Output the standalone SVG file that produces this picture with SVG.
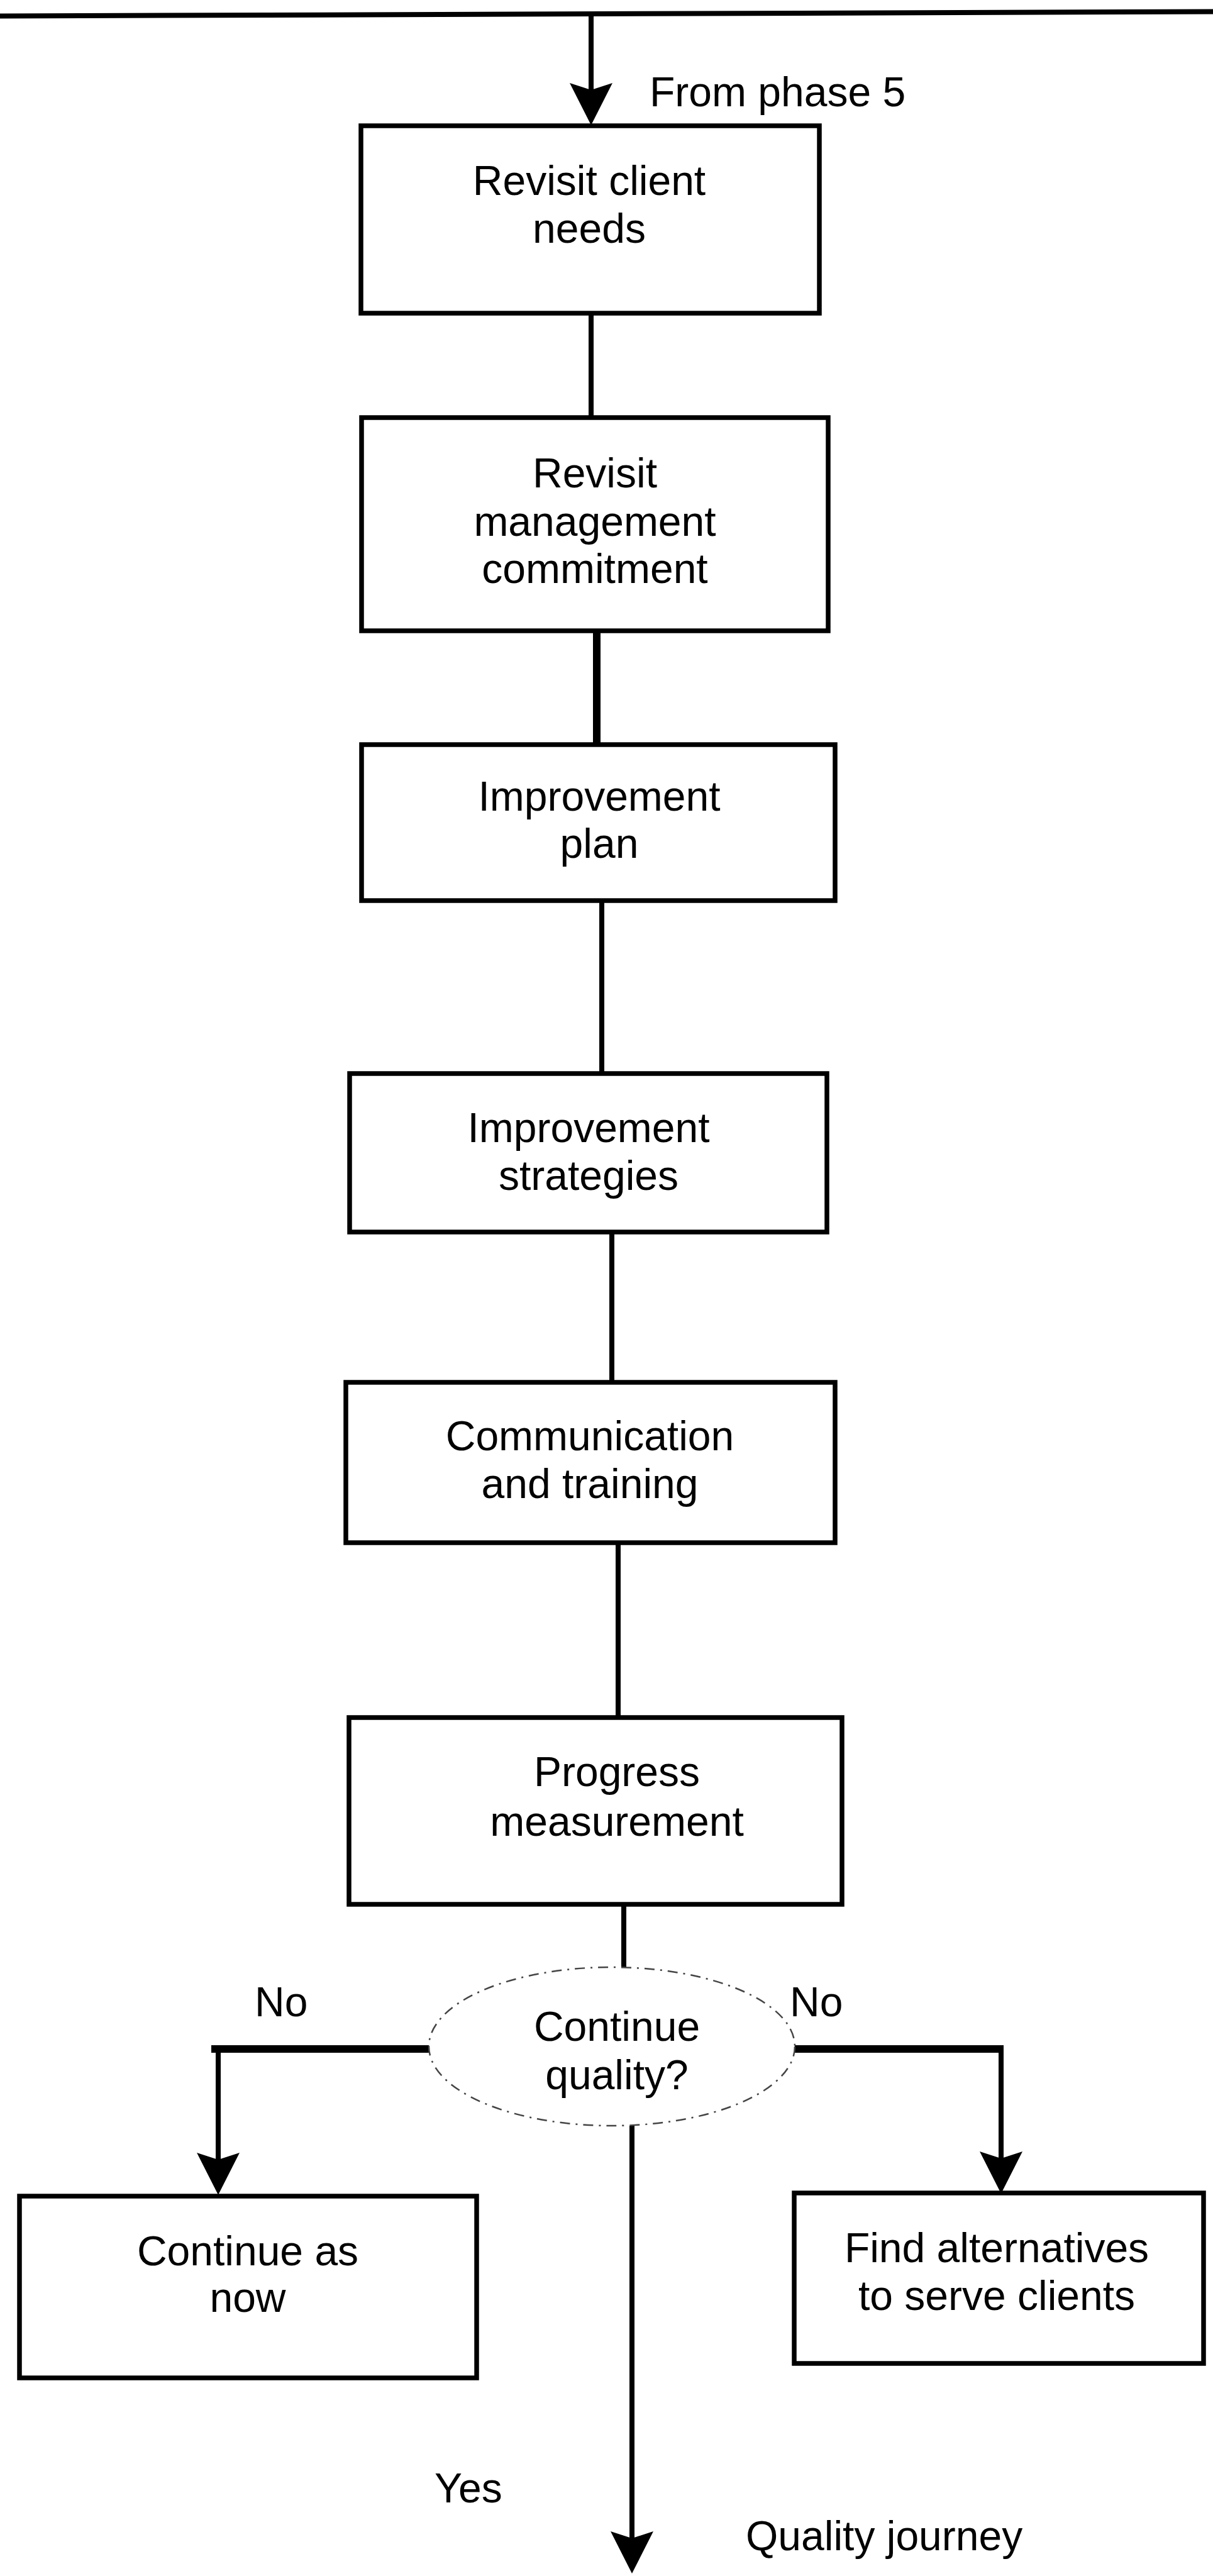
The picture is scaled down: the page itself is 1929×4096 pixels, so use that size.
<svg xmlns="http://www.w3.org/2000/svg" xmlns:xlink="http://www.w3.org/1999/xlink" width="1929" height="4096" viewBox="0 0 1929 4096">
  <style>
    .box { fill: #ffffff; stroke: #000000; stroke-width: 7.5; }
    .lbl { font-family: "Liberation Sans", Arial, sans-serif; font-size: 66px; fill: #000000; }
    .mid { text-anchor: middle; }
    .wire { fill: none; stroke: #000000; stroke-width: 8; stroke-linecap: butt; }
    .wire-thick { fill: none; stroke: #000000; stroke-width: 12; }
    .decision { fill: #ffffff; stroke: #444444; stroke-width: 2.5; stroke-dasharray: 16 9 3 9; }
  </style>
  <defs>
    <!-- notched arrowhead, tip at origin pointing down -->
    <path id="arrowhead" d="M0,0 L-34,-67 L0,-56 L34,-67 Z" fill="#000000"/>
  </defs>
  <rect x="0" y="0" width="1929" height="4096" fill="#ffffff"/>

  <g id="connectors">
    <!-- incoming line from previous phase -->
    <line class="wire" x1="0" y1="25.5" x2="1929" y2="18.5"/>
    <line class="wire" x1="940" y1="22" x2="940" y2="150"/>
    <use xlink:href="#arrowhead" x="940" y="199"/>
    <!-- main chain -->
    <line class="wire" x1="940" y1="498" x2="940" y2="664"/>
    <line class="wire-thick" x1="949" y1="1003" x2="949" y2="1184"/>
    <line class="wire" x1="957" y1="1432" x2="957" y2="1707"/>
    <line class="wire" x1="973" y1="1959" x2="973" y2="2198"/>
    <line class="wire" x1="983" y1="2453" x2="983" y2="2731"/>
    <line class="wire" x1="992" y1="3028" x2="992" y2="3128"/>
    <!-- "No" branch to the left -->
    <line class="wire-thick" x1="336" y1="3258" x2="682" y2="3258"/>
    <line class="wire" x1="347" y1="3262" x2="347" y2="3440"/>
    <use xlink:href="#arrowhead" x="347" y="3490"/>
    <!-- "No" branch to the right -->
    <line class="wire-thick" x1="1264" y1="3258" x2="1596" y2="3258"/>
    <line class="wire" x1="1592" y1="3262" x2="1592" y2="3440"/>
    <use xlink:href="#arrowhead" x="1592" y="3488"/>
    <!-- "Yes" branch down -->
    <line class="wire" x1="1005" y1="3380" x2="1005" y2="4040"/>
    <use xlink:href="#arrowhead" x="1005" y="4092"/>
  </g>

  <g id="label-from-phase">
    <text class="lbl" x="1033" y="169">From phase 5</text>
  </g>

  <g id="node-client-needs">
    <rect class="box" x="574" y="200" width="729" height="298"/>
    <text class="lbl mid" x="937" y="310">Revisit client</text>
    <text class="lbl mid" x="937" y="386">needs</text>
  </g>

  <g id="node-management">
    <rect class="box" x="575" y="664" width="742" height="339"/>
    <text class="lbl mid" x="946" y="775">Revisit</text>
    <text class="lbl mid" x="946" y="852">management</text>
    <text class="lbl mid" x="946" y="927">commitment</text>
  </g>

  <g id="node-plan">
    <rect class="box" x="575" y="1184" width="753" height="248"/>
    <text class="lbl mid" x="953" y="1289">Improvement</text>
    <text class="lbl mid" x="953" y="1364">plan</text>
  </g>

  <g id="node-strategies">
    <rect class="box" x="556" y="1707" width="759" height="252"/>
    <text class="lbl mid" x="936" y="1816">Improvement</text>
    <text class="lbl mid" x="936" y="1892">strategies</text>
  </g>

  <g id="node-communication">
    <rect class="box" x="550" y="2198" width="778" height="255"/>
    <text class="lbl mid" x="938" y="2306">Communication</text>
    <text class="lbl mid" x="938" y="2382">and training</text>
  </g>

  <g id="node-progress">
    <rect class="box" x="555" y="2731" width="784" height="297"/>
    <text class="lbl mid" x="981" y="2840">Progress</text>
    <text class="lbl mid" x="981" y="2919">measurement</text>
  </g>

  <g id="node-decision">
    <ellipse class="decision" cx="973" cy="3254" rx="291" ry="126"/>
    <text class="lbl mid" x="981" y="3245">Continue</text>
    <text class="lbl mid" x="981" y="3322">quality?</text>
  </g>

  <g id="branch-labels">
    <text class="lbl" x="405" y="3206">No</text>
    <text class="lbl" x="1256" y="3206">No</text>
    <text class="lbl" x="691" y="3979">Yes</text>
    <text class="lbl" x="1186" y="4055">Quality journey</text>
  </g>

  <g id="node-continue-as-now">
    <rect class="box" x="31" y="3492" width="727" height="289"/>
    <text class="lbl mid" x="394" y="3602">Continue as</text>
    <text class="lbl mid" x="394" y="3676">now</text>
  </g>

  <g id="node-alternatives">
    <rect class="box" x="1263" y="3487" width="651" height="271"/>
    <text class="lbl mid" x="1585" y="3597">Find alternatives</text>
    <text class="lbl mid" x="1585" y="3673">to serve clients</text>
  </g>
</svg>
